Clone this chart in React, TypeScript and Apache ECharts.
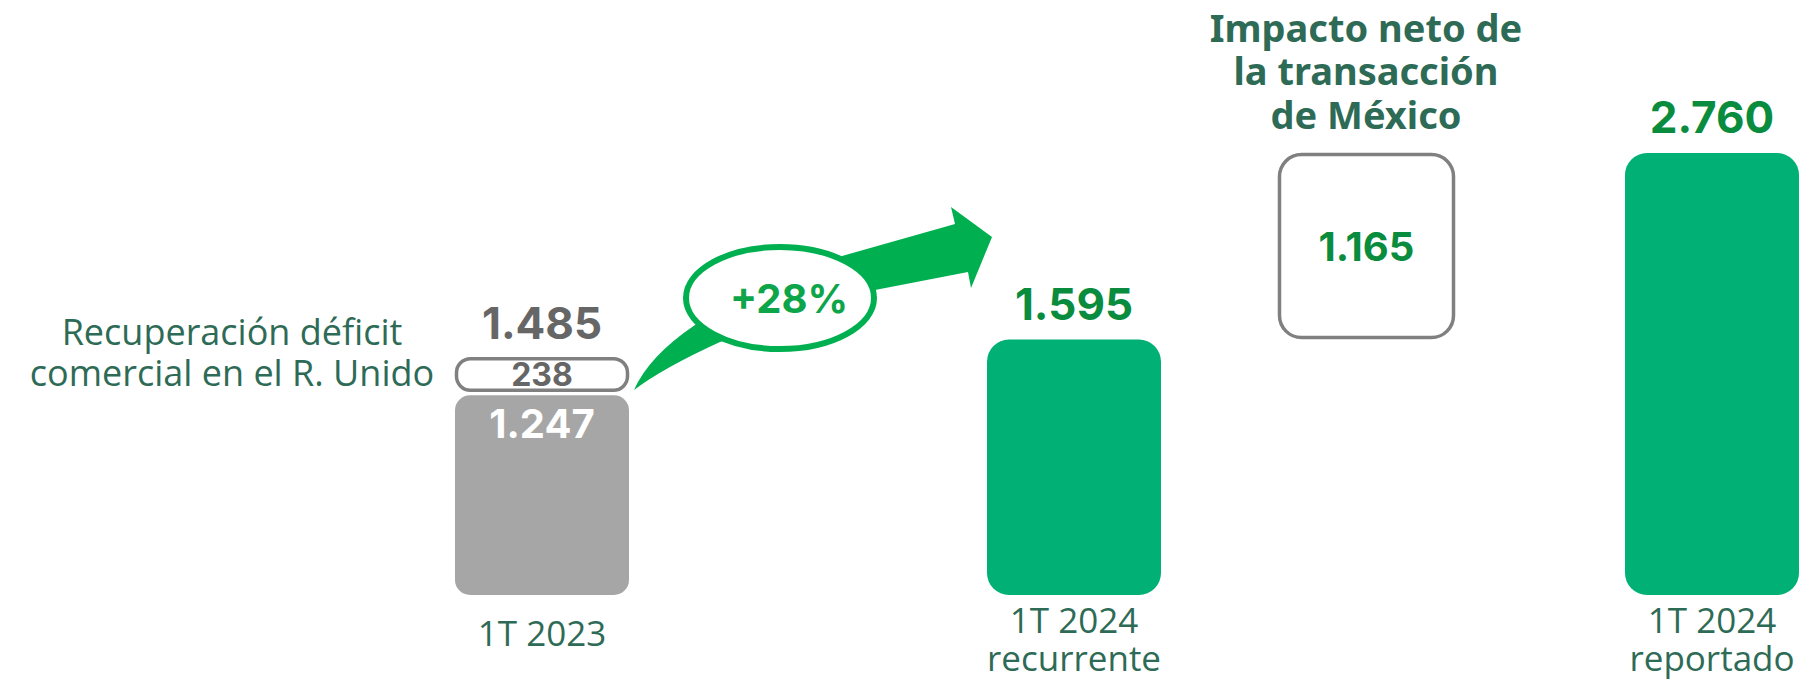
import React, { useEffect, useRef } from 'react';
import * as echarts from 'echarts';

// ---- data ----
const categories = ['1T 2023', '1T 2024\nrecurrente', '', '1T 2024\nreportado'];
const barValues: (number | null)[] = [1247, 1595, null, 2760];
const floatStarts: (number | null)[] = [1247, null, 1595, null];
const floatValues: (number | null)[] = [238, null, 1165, null];
const growthText = '+28%';
const ukNote = 'Recuperación déficit\ncomercial en el R. Unido';
const mexicoNote = 'Impacto neto de\nla transacción\nde México';

// ---- styles / layout ----
const GREEN = '#00B074';
const GRAY = '#A6A6A6';
const DARK = '#2E6B56';
const VALUE_GREEN = '#0A8C3E';
const ARROW = '#00B050';
const LABEL_GRAY = '#666666';
const BOX_STROKE = '#808080';
const NUM_FONT = 'Inter, "Noto Sans", sans-serif';
const TEXT_FONT = '"Open Sans", "Noto Sans", sans-serif';

const gridBoxes = [
  { left: 455, width: 174 },
  { left: 987, width: 174 },
  { left: 1278, width: 177 },
  { left: 1625, width: 174 },
];

const ARROW_PATH =
  'M634 390 Q663 368 720 342 L800 318 L875 290 L968 272 L971 288 L992 237 L951 207 L955 224 L842 256 L760 290 L695 325 Q649 356 634 390 Z';

let shapeRegistered = false;
function ensureShape() {
  if (shapeRegistered) return;
  echarts.graphic.registerShape('growthArrow', (echarts.graphic as any).extendPath(ARROW_PATH, {}));
  shapeRegistered = true;
}

const fmt = (v: number) => String(v).replace(/\B(?=(\d{3})+(?!\d))/g, '.');

function buildOption() {
  const allTops: number[] = [];
  barValues.forEach((v) => v != null && allTops.push(v));
  floatStarts.forEach((s, i) => s != null && allTops.push(s + (floatValues[i] as number)));
  const yMax = Math.max(...allTops);

  const series: any[] = [];
  categories.forEach((_, i) => {
    const v = barValues[i];
    if (v != null) {
      const first = i === 0;
      series.push({
        type: 'bar',
        xAxisIndex: i,
        yAxisIndex: i,
        data: [v],
        barWidth: '100%',
        itemStyle: { color: first ? GRAY : GREEN, borderRadius: first ? 15 : 22 },
        label: first
          ? {
              show: true,
              position: 'insideTop',
              distance: 8,
              color: '#ffffff',
              fontFamily: NUM_FONT,
              fontWeight: 'bold',
              fontSize: 40,
              formatter: (p: any) => fmt(p.value),
            }
          : {
              show: true,
              position: 'top',
              distance: 14,
              color: VALUE_GREEN,
              fontFamily: NUM_FONT,
              fontWeight: 'bold',
              fontSize: 44,
              formatter: (p: any) => fmt(p.value),
            },
      });
    }
    const fv = floatValues[i];
    const fs = floatStarts[i];
    if (fv != null && fs != null) {
      const small = i === 0;
      series.push({
        type: 'custom',
        xAxisIndex: i,
        yAxisIndex: i,
        data: [[0, fs, fs + fv, fv]],
        renderItem: (params: any, api: any) => {
          const top = api.coord([api.value(0), api.value(2)]);
          const bot = api.coord([api.value(0), api.value(1)]);
          const bw = api.size([1, 0])[0];
          const gapB = small ? 5 : 2;
          const y0 = top[1] + 1.5;
          const y1 = bot[1] - gapB;
          const h = y1 - y0;
          const children: any[] = [
            {
              type: 'rect',
              shape: { x: top[0] - bw / 2 + 1.5, y: y0, width: bw - 3, height: h, r: Math.min(small ? 14 : 22, h / 2) },
              style: { fill: '#ffffff', stroke: BOX_STROKE, lineWidth: 3.5 },
            },
            {
              type: 'text',
              x: top[0],
              y: y0 + h / 2,
              style: {
                text: fmt(api.value(3)),
                fill: small ? LABEL_GRAY : VALUE_GREEN,
                fontFamily: NUM_FONT,
                fontWeight: 'bold',
                fontSize: small ? 32 : 40,
                align: 'center',
                verticalAlign: 'middle',
              },
            },
          ];
          if (small) {
            children.push({
              type: 'text',
              x: top[0],
              y: top[1] - 12,
              style: {
                text: fmt(api.value(2)),
                fill: LABEL_GRAY,
                fontFamily: NUM_FONT,
                fontWeight: 'bold',
                fontSize: 44,
                align: 'center',
                verticalAlign: 'bottom',
              },
            });
          }
          return { type: 'group', children };
        },
      });
    }
  });

  return {
    animation: false,
    backgroundColor: '#ffffff',
    grid: gridBoxes.map((g) => ({
      left: g.left,
      width: g.width,
      top: 153,
      bottom: 87,
      containLabel: false,
      outerBoundsMode: 'none',
    })),
    xAxis: categories.map((c, i) => ({
      type: 'category',
      gridIndex: i,
      data: [c],
      axisLine: { show: false },
      axisTick: { show: false },
      splitLine: { show: false },
      axisLabel: {
        show: c !== '',
        interval: 0,
        margin: i === 0 ? 18 : 5,
        fontFamily: TEXT_FONT,
        fontSize: 35,
        lineHeight: 38,
        color: DARK,
      },
    })),
    yAxis: categories.map((_, i) => ({
      type: 'value',
      gridIndex: i,
      min: 0,
      max: yMax,
      show: false,
      splitLine: { show: false },
    })),
    series,
    graphic: [
      {
        type: 'growthArrow',
        x: 0,
        y: 0,
        scaleX: 1,
        scaleY: 1,
        z: 10,
        style: { fill: ARROW },
      },
      {
        type: 'ellipse',
        z: 11,
        shape: { cx: 780, cy: 298, rx: 94, ry: 51 },
        style: { fill: '#ffffff', stroke: ARROW, lineWidth: 6 },
      },
      {
        type: 'text',
        z: 12,
        x: 789,
        y: 298,
        style: {
          text: growthText,
          fill: '#0DA54A',
          fontFamily: NUM_FONT,
          fontWeight: 'bold',
          fontSize: 40,
          align: 'center',
          verticalAlign: 'middle',
        },
      },
      {
        type: 'text',
        z: 12,
        x: 232,
        y: 351.5,
        style: {
          text: ukNote,
          fill: DARK,
          fontFamily: TEXT_FONT,
          fontSize: 36,
          lineHeight: 41,
          align: 'center',
          verticalAlign: 'middle',
        },
      },
      {
        type: 'text',
        z: 12,
        x: 1366,
        y: 5,
        style: {
          text: mexicoNote,
          fill: DARK,
          fontFamily: '"Noto Sans", "Open Sans", sans-serif',
          fontWeight: 'bold',
          fontSize: 38,
          lineHeight: 43.5,
          align: 'center',
          verticalAlign: 'top',
        },
      },
    ],
  };
}

export default function App() {
  const ref = useRef<HTMLDivElement>(null);
  useEffect(() => {
    if (!ref.current) return;
    ensureShape();
    const chart = echarts.init(ref.current, undefined, { renderer: 'svg' });
    chart.setOption(buildOption() as any);
    return () => chart.dispose();
  }, []);
  return (
    <div
      ref={ref}
      style={{ position: 'fixed', left: 0, top: 0, width: 1811, height: 682, background: '#ffffff' }}
    />
  );
}
